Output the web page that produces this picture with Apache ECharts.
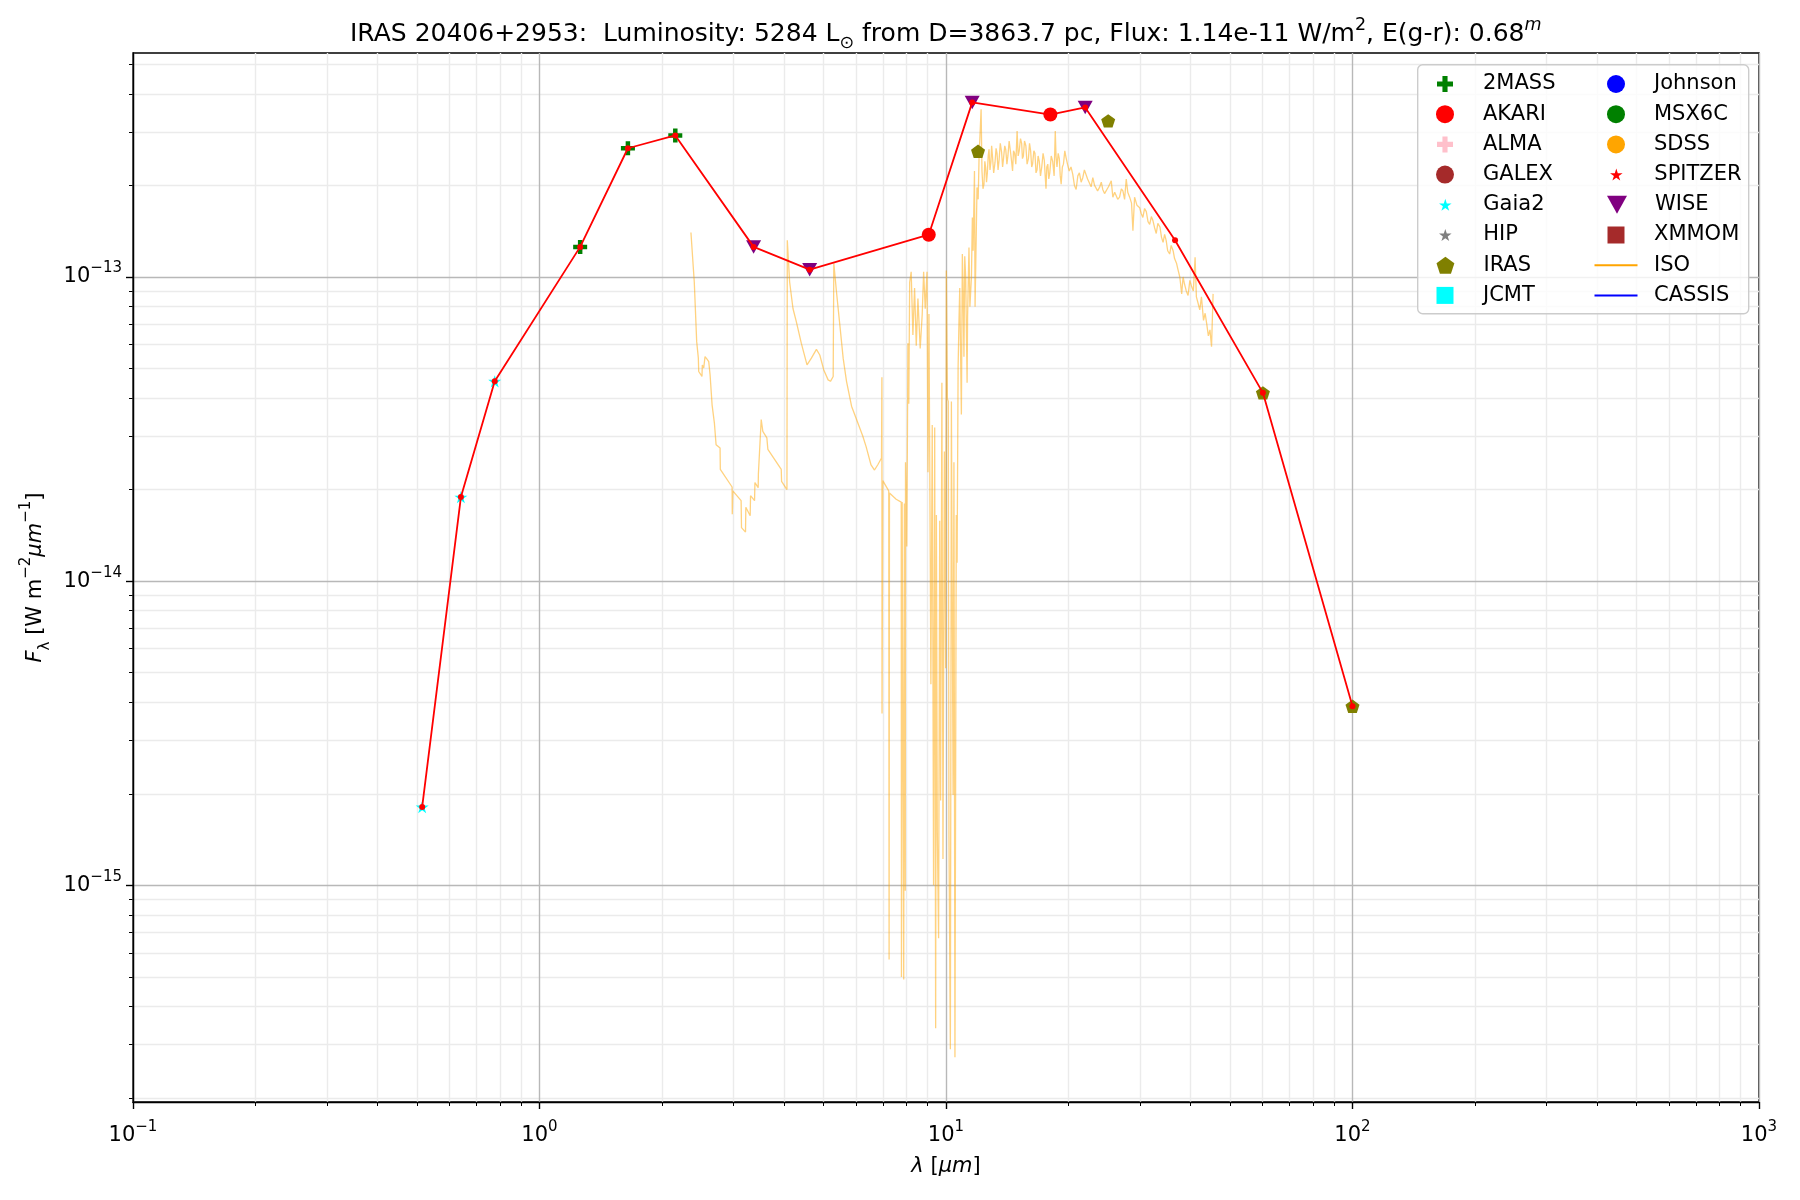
<!DOCTYPE html>
<html>
<head>
<meta charset="utf-8">
<script src="https://cdn.jsdelivr.net/npm/echarts@6/dist/echarts.min.js"></script>
<style>
html,body{margin:0;padding:0;background:#ffffff;}
#chart{width:1800px;height:1200px;}
</style>
</head>
<body>
<div id="chart"></div>
<script>
// ---------------- DATA ----------------
// Connected SED photometry (red line with dots)
const sedLambda = [0.5145, 0.6407, 0.776, 1.259, 1.650, 2.158, 3.363, 4.62, 9.07, 11.6, 18.06, 22.0, 36.6, 60.2, 100];
const sedFlux   = [1.81e-15, 1.89e-14, 4.54e-14, 1.256e-13, 2.65e-13, 2.92e-13, 1.256e-13, 1.057e-13, 1.377e-13, 3.75e-13, 3.42e-13, 3.61e-13, 1.32e-13, 4.16e-14, 3.88e-15];

// Catalog photometry
const twomassLambda = [1.259, 1.650, 2.158];
const twomassFlux   = [1.256e-13, 2.65e-13, 2.92e-13];
const akariLambda = [9.07, 18.06];
const akariFlux   = [1.377e-13, 3.42e-13];
const gaiaLambda = [0.5145, 0.6407, 0.776];
const gaiaFlux   = [1.81e-15, 1.89e-14, 4.54e-14];
const wiseLambda = [3.363, 4.62, 11.6, 22.0];
const wiseFlux   = [1.256e-13, 1.057e-13, 3.75e-13, 3.61e-13];
const irasLambda = [11.99, 25.06, 60.2, 100];
const irasFlux   = [2.59e-13, 3.26e-13, 4.16e-14, 3.88e-15];

// ISO spectrum (traced)
const isoLambda = [
 2.358,2.403,2.436,2.459,2.464,2.510,2.515,2.525,2.535,2.549,2.554,2.580,2.608,2.628,2.658,2.693,2.719,2.781,2.785,2.977,
 2.980,2.989,3.006,3.133,3.140,3.212,3.218,3.298,3.305,3.381,3.388,3.451,3.455,3.478,3.511,3.543,3.625,3.646,3.933,3.940,
 4.062,4.070,4.124,4.203,4.283,4.407,4.551,4.665,4.800,4.892,5.004,5.129,5.197,5.278,5.297,5.378,5.481,5.585,5.692,5.857,
 6.025,6.24,6.36,6.54,6.67,6.79,6.94,6.955,6.96,6.99,7.23,7.245,7.26,7.54,7.76,7.77,7.80,7.83,7.87,7.90,
 7.94,7.95,8.01,8.06,8.10,8.14,8.21,8.29,8.37,8.45,8.53,8.64,8.74,8.81,8.89,8.98,9.03,9.08,9.11,9.18,
 9.25,9.32,9.38,9.43,9.47,9.52,9.59,9.65,9.70,9.77,9.83,9.91,9.98,10.02,10.08,10.13,10.17,10.25,10.31,10.41,
 10.46,10.52,10.60,10.65,10.71,10.76,10.81,10.91,10.97,11.01,11.07,11.12,11.18,11.27,11.30,11.39,11.45,11.55,11.61,11.66,
 11.75,11.79,11.92,12.0,12.06,12.2,12.26,12.33,12.4,12.46,12.52,12.58,12.64,12.7,12.76,12.83,12.9,12.95,13.01,13.1,
 13.2,13.28,13.35,13.43,13.51,13.6,13.7,13.78,13.85,13.95,14.03,14.12,14.2,14.3,14.4,14.5,14.58,14.66,14.75,14.85,
 14.96,15.05,15.14,15.25,15.35,15.42,15.5,15.6,15.72,15.83,15.95,16.05,16.15,16.25,16.33,16.45,16.55,16.65,16.75,16.85,
 16.96,17.08,17.2,17.33,17.45,17.54,17.62,17.7,17.8,17.9,18.0,18.15,18.3,18.45,18.57,18.65,18.75,18.88,19.0,19.1,
 19.2,19.33,19.45,19.6,19.74,19.9,20.1,20.3,20.5,20.7,20.9,21.1,21.29,21.5,21.7,21.9,22.11,22.3,22.5,22.75,
 22.97,23.2,23.4,23.6,23.86,24.1,24.3,24.55,24.77,25.1,25.5,25.73,26.0,26.2,26.45,26.73,27.0,27.24,27.5,27.76,
 28.0,28.3,28.6,28.83,29.1,29.5,29.95,30.2,30.5,30.8,31.1,31.4,31.7,32.0,32.3,32.6,32.9,33.2,33.6,33.9,
 34.2,34.5,34.8,35.1,35.5,35.8,36.2,36.5,36.9,37.2,37.6,38.0,38.3,38.6,39.0,39.4,39.8,40.2,40.6,41.0,
 41.3,41.7,42.1,42.5,43.0,43.4,43.8,44.2,44.6,45.0,45.4
];
const isoFlux = [
 1.40e-13,9.63e-14,6.13e-14,5.41e-14,4.89e-14,4.71e-14,5.14e-14,5.14e-14,5.02e-14,5.08e-14,5.47e-14,5.38e-14,5.27e-14,4.77e-14,3.80e-14,3.31e-14,2.81e-14,2.74e-14,2.33e-14,2.04e-14,
 1.66e-14,1.98e-14,1.96e-14,1.84e-14,1.50e-14,1.45e-14,1.75e-14,1.64e-14,1.91e-14,1.84e-14,2.11e-14,2.03e-14,2.25e-14,2.25e-14,3.40e-14,3.11e-14,2.96e-14,2.71e-14,2.33e-14,2.13e-14,
 2.00e-14,1.32e-13,9.63e-14,7.88e-14,7.13e-14,6.05e-14,5.14e-14,5.41e-14,5.78e-14,5.54e-14,4.95e-14,4.59e-14,4.54e-14,4.71e-14,1.11e-13,8.93e-14,6.95e-14,5.41e-14,4.54e-14,3.76e-14,
 3.40e-14,3.00e-14,2.77e-14,2.41e-14,2.32e-14,2.41e-14,2.54e-14,4.68e-14,3.67e-15,2.14e-14,1.98e-14,5.7e-16,1.95e-14,1.86e-14,1.82e-14,5.0e-16,1.82e-14,1.82e-14,4.9e-16,1.80e-14,
 9.6e-16,2.46e-14,1.30e-14,6.06e-14,3.83e-14,9.6e-14,1.04e-13,6.45e-14,9.2e-14,5.94e-14,8.5e-14,5.82e-14,7.55e-14,1.04e-13,7.87e-14,1.04e-13,2.28e-14,7.55e-14,3.26e-14,4.58e-15,
 3.26e-14,1.0e-15,3.2e-14,3.39e-16,1.65e-14,1.49e-15,6.7e-16,1.58e-14,1.9e-15,4.49e-14,1.22e-15,2.67e-14,5.17e-15,1.05e-13,3.98e-14,3.9e-14,1.44e-15,2.89e-16,3.9e-14,1.98e-15,
 2.46e-14,2.72e-16,1.65e-14,1.15e-14,5.06e-14,7.03e-14,9.2e-14,3.53e-14,1.19e-13,9.6e-14,5.47e-14,1.17e-13,1.0e-13,4.49e-14,7.4e-14,1.25e-13,7.98e-14,1.0e-13,1.57e-13,1.22e-13,
 2.23e-13,7.98e-14,1.97e-13,1.8e-13,2.47e-13,3.56e-13,2.23e-13,1.95e-13,2.02e-13,2.4e-13,2.29e-13,2.05e-13,2.2e-13,2.5e-13,2.63e-13,2.25e-13,2.4e-13,2.7e-13,2.5e-13,2.2e-13,
 2.38e-13,2.65e-13,2.55e-13,2.25e-13,2.43e-13,2.75e-13,2.58e-13,2.3e-13,2.45e-13,2.7e-13,2.62e-13,2.35e-13,2.5e-13,2.8e-13,2.6e-13,2.4e-13,2.23e-13,2.6e-13,2.55e-13,2.35e-13,
 3.02e-13,2.5e-13,2.6e-13,2.85e-13,2.75e-13,2.45e-13,2.5e-13,2.8e-13,2.7e-13,2.35e-13,2.45e-13,2.75e-13,2.6e-13,2.3e-13,2.35e-13,2.6e-13,2.55e-13,2.2e-13,2.25e-13,2.5e-13,
 2.4e-13,2.15e-13,2.3e-13,2.55e-13,2.42e-13,2.15e-13,1.95e-13,2.3e-13,2.35e-13,2.1e-13,2.2e-13,2.5e-13,2.4e-13,2.15e-13,3.02e-13,2.5e-13,2.3e-13,2.55e-13,2.45e-13,2.15e-13,
 2.02e-13,2.3e-13,2.35e-13,2.6e-13,2.47e-13,2.35e-13,2.23e-13,2.3e-13,2.18e-13,2.0e-13,1.94e-13,2.15e-13,2.2e-13,2.05e-13,2.12e-13,2.25e-13,2.23e-13,2.1e-13,2.07e-13,1.98e-13,
 2.12e-13,2.0e-13,2.02e-13,1.92e-13,1.97e-13,2.05e-13,1.94e-13,1.88e-13,1.9e-13,1.98e-13,2.07e-13,1.83e-13,1.9e-13,1.92e-13,1.8e-13,1.83e-13,1.95e-13,1.92e-13,1.8e-13,2.1e-13,
 1.9e-13,1.83e-13,1.75e-13,1.42e-13,1.83e-13,1.72e-13,1.69e-13,1.62e-13,1.57e-13,1.68e-13,1.64e-13,1.52e-13,1.49e-13,1.58e-13,1.53e-13,1.45e-13,1.39e-13,1.5e-13,1.46e-13,1.35e-13,
 1.30e-13,1.38e-13,1.32e-13,1.22e-13,1.19e-13,1.27e-13,1.22e-13,1.15e-13,1.11e-13,1.06e-13,1.0e-13,8.8e-14,1.0e-13,9.5e-14,9.0e-14,8.7e-14,9.75e-14,9.3e-14,9.0e-14,1.16e-13,
 8.6e-14,8.2e-14,7.8e-14,8.6e-14,7.2e-14,7.6e-14,7.0e-14,6.4e-14,6.7e-14,5.9e-14,8.8e-14
];

// Axis ranges and ticks
const X_MIN = 0.1, X_MAX = 1000;
const Y_MIN = 1.94e-16, Y_MAX = 5.45e-13;
const xMajorTicks = [0.1, 1, 10, 100, 1000];
const xTickExponents = ['−1', '0', '1', '2', '3'];
const xMinorTicks = [0.2,0.3,0.4,0.5,0.6,0.7,0.8,0.9, 2,3,4,5,6,7,8,9, 20,30,40,50,60,70,80,90, 200,300,400,500,600,700,800,900];
const yMajorTicks = [1e-15, 1e-14, 1e-13];
const yTickExponents = ['−15', '−14', '−13'];
const yMinorTicks = [2e-16,3e-16,4e-16,5e-16,6e-16,7e-16,8e-16,9e-16, 2e-15,3e-15,4e-15,5e-15,6e-15,7e-15,8e-15,9e-15,
                     2e-14,3e-14,4e-14,5e-14,6e-14,7e-14,8e-14,9e-14, 2e-13,3e-13,4e-13,5e-13];

const legendCol1 = ['2MASS','AKARI','ALMA','GALEX','Gaia2','HIP','IRAS','JCMT'];
const legendCol2 = ['Johnson','MSX6C','SDSS','SPITZER','WISE','XMMOM','ISO','CASSIS'];

// ---------------- STYLE ----------------
const SYM_PLUS = 'path://M34,0L66,0L66,34L100,34L100,66L66,66L66,100L34,100L34,66L0,66L0,34L34,34Z';
const SYM_STAR = 'path://M100,0L122.45,69.1L195.1,69.1L136.33,111.8L158.78,180.9L100,138.2L41.22,180.9L63.67,111.8L4.9,69.1L77.55,69.1Z';
const SYM_PENT = 'path://M100,0L195.1,69.1L158.78,180.9L41.22,180.9L4.9,69.1Z';
const SYM_TRID = 'path://M0,0L100,0L50,90Z';
const SYM_SQR  = 'path://M0,0L100,0L100,100L0,100Z';

const catalogStyle = {
  '2MASS':   {kind:'scatter', symbol:SYM_PLUS, color:'#008000', size:14, lsize:16},
  'AKARI':   {kind:'scatter', symbol:'circle', color:'#ff0000', size:14, lsize:18},
  'ALMA':    {kind:'scatter', symbol:SYM_PLUS, color:'#ffc0cb', size:14, lsize:16},
  'GALEX':   {kind:'scatter', symbol:'circle', color:'#a52a2a', size:14, lsize:18},
  'Gaia2':   {kind:'scatter', symbol:SYM_STAR, color:'#00ffff', size:13, lsize:12},
  'HIP':     {kind:'scatter', symbol:SYM_STAR, color:'#808080', size:13, lsize:12},
  'IRAS':    {kind:'scatter', symbol:SYM_PENT, color:'#808000', size:14, lsize:17},
  'JCMT':    {kind:'scatter', symbol:SYM_SQR,  color:'#00ffff', size:14, lsize:17},
  'Johnson': {kind:'scatter', symbol:'circle', color:'#0000ff', size:14, lsize:18},
  'MSX6C':   {kind:'scatter', symbol:'circle', color:'#008000', size:14, lsize:18},
  'SDSS':    {kind:'scatter', symbol:'circle', color:'#ffa500', size:14, lsize:18},
  'SPITZER': {kind:'scatter', symbol:SYM_STAR, color:'#ff0000', size:13, lsize:12},
  'WISE':    {kind:'scatter', symbol:SYM_TRID, color:'#800080', size:15, lsize:18},
  'XMMOM':   {kind:'scatter', symbol:SYM_SQR,  color:'#a52a2a', size:14, lsize:17},
  'ISO':     {kind:'line', color:'#ffa500'},
  'CASSIS':  {kind:'line', color:'#0000ff'}
};

function zip(xs, ys) { return xs.map((x, i) => [x, ys[i]]); }

const catalogData = {
  '2MASS': zip(twomassLambda, twomassFlux),
  'AKARI': zip(akariLambda, akariFlux),
  'Gaia2': zip(gaiaLambda, gaiaFlux),
  'WISE':  zip(wiseLambda, wiseFlux),
  'IRAS':  zip(irasLambda, irasFlux),
  'ISO':   zip(isoLambda, isoFlux)
};

const FONT = 'DejaVu Sans';
const FS = 21;
const series = [];
legendCol1.concat(legendCol2).forEach(name => {
  const st = catalogStyle[name];
  const data = catalogData[name] || [];
  if (st.kind === 'line') {
    series.push({
      name, type:'line', data, symbol:'none', showSymbol:false, z:1,
      itemStyle:{color:st.color},
      lineStyle:{color:st.color, width:1.3, opacity:0.5},
      emphasis:{disabled:true}
    });
  } else {
    series.push({
      name, type:'scatter', data, symbol:st.symbol, symbolSize:st.size, symbolKeepAspect:true, z:3,
      itemStyle:{color:st.color, opacity:1},
      emphasis:{disabled:true}
    });
  }
});
series.push({
  name:'SED', type:'line', data: zip(sedLambda, sedFlux), symbol:'circle', symbolSize:6, showSymbol:true, z:5,
  itemStyle:{color:'#ff0000'}, lineStyle:{color:'#ff0000', width:1.8}, emphasis:{disabled:true}
});

// legends (one per entry, two columns); the legend box aligns to its visible content
const legends = [];
[legendCol1, legendCol2].forEach((col, ci) => {
  col.forEach((name, ri) => {
    const st = catalogStyle[name];
    const cy = 84 + ri * 30.2;
    const cx = ci === 0 ? 1445 : 1616;
    const isLine = st.kind === 'line';
    const h = isLine ? 2 : st.lsize;
    const w = isLine ? 43 : st.lsize;
    legends.push({
      show:true, orient:'horizontal', left: cx - w / 2, top: cy - 16,
      itemWidth:66, itemHeight:h, itemGap:0, padding:0, selectedMode:false, symbolKeepAspect:true,
      data:[ isLine ? {name, icon:'path://M0,0L43,0L43,2L0,2Z', itemStyle:{color:st.color, opacity:1}} : {name} ],
      textStyle:{fontSize:FS, lineHeight:32, color:'#000', fontFamily:FONT}
    });
  });
});

const supRich = {
  b:{fontSize:FS, lineHeight:32, color:'#000', fontFamily:FONT},
  s:{fontSize:15, verticalAlign:'top', color:'#000', fontFamily:FONT}
};

const option = {
  animation:false,
  backgroundColor:'#ffffff',
  textStyle:{fontFamily:FONT},
  title:{
    text:'{n|IRAS 20406+2953:  Luminosity: 5284 L}{sub|⊙}{n| from D=3863.7 pc, Flux: 1.14e-11 W/m}{sup|2}{n|, E(g-r): 0.68}{supi|m}',
    left:350, top:16, padding:0,
    textStyle:{
      fontSize:25, color:'#000', fontWeight:'normal', fontFamily:FONT,
      rich:{
        n:{fontSize:25, lineHeight:36, color:'#000', fontFamily:FONT},
        sub:{fontSize:17.5, verticalAlign:'bottom', color:'#000', fontFamily:FONT},
        sup:{fontSize:17.5, verticalAlign:'top', color:'#000', fontFamily:FONT},
        supi:{fontSize:17.5, verticalAlign:'top', fontStyle:'italic', color:'#000', fontFamily:FONT}
      }
    }
  },
  grid:{left:133, right:41, top:53, bottom:98, show:true, borderColor:'#000', borderWidth:1.4, backgroundColor:'transparent', containLabel:false, outerBoundsMode:'none'},
  xAxis:[
    {
      type:'log', logBase:10, min:X_MIN, max:X_MAX, position:'bottom', gridIndex:0, z:1,
      name:'{i|λ} [{i|μm}]', nameLocation:'middle', nameGap:54,
      nameTextStyle:{fontSize:FS, color:'#000', fontFamily:FONT, rich:{i:{fontStyle:'italic', fontSize:FS, color:'#000', fontFamily:FONT}}},
      axisLine:{show:true, onZero:false, lineStyle:{color:'#000', width:1.4}},
      axisTick:{show:true, length:7, lineStyle:{color:'#000', width:1.4}, customValues:xMajorTicks},
      axisLabel:{show:true, margin:18, customValues:xMajorTicks, rich:supRich,
        formatter:(v) => { const i = xMajorTicks.findIndex(t => Math.abs(Math.log10(t) - Math.log10(v)) < 1e-6); return i < 0 ? '' : '{b|10}{s|' + xTickExponents[i] + '}'; }},
      splitLine:{show:true, lineStyle:{color:'#b8b8b8', width:1.4}},
      minorTick:{show:false}, minorSplitLine:{show:false}
    },
    {
      type:'log', logBase:10, min:X_MIN, max:X_MAX, position:'bottom', gridIndex:0, z:0,
      axisLine:{show:false},
      axisTick:{show:true, length:4, lineStyle:{color:'#000', width:1}, customValues:xMinorTicks},
      axisLabel:{show:false},
      splitLine:{show:true, lineStyle:{color:'#ebebeb', width:1.4}}
    }
  ],
  yAxis:[
    {
      type:'log', logBase:10, min:Y_MIN, max:Y_MAX, position:'left', gridIndex:0, z:1,
      name:'{i|F}{sub|λ} [W m{sup|−2}{i|μm}{sup|−1}]', nameLocation:'middle', nameRotate:90, nameGap:76,
      nameTextStyle:{fontSize:FS, color:'#000', fontFamily:FONT, rich:{
        i:{fontStyle:'italic', fontSize:FS, lineHeight:34, color:'#000', fontFamily:FONT},
        n:{fontSize:FS, lineHeight:34, color:'#000', fontFamily:FONT},
        sub:{fontSize:15, verticalAlign:'bottom', color:'#000', fontFamily:FONT},
        sup:{fontSize:15, verticalAlign:'top', color:'#000', fontFamily:FONT}
      }},
      axisLine:{show:true, onZero:false, lineStyle:{color:'#000', width:1.4}},
      axisTick:{show:true, length:7, lineStyle:{color:'#000', width:1.4}, customValues:yMajorTicks},
      axisLabel:{show:true, margin:11, customValues:yMajorTicks, rich:supRich,
        formatter:(v) => { const i = yMajorTicks.findIndex(t => Math.abs(Math.log10(t) - Math.log10(v)) < 1e-6); return i < 0 ? '' : '{b|10}{s|' + yTickExponents[i] + '}'; }},
      splitLine:{show:true, lineStyle:{color:'#b8b8b8', width:1.4}},
      minorTick:{show:false}, minorSplitLine:{show:false}
    },
    {
      type:'log', logBase:10, min:Y_MIN, max:Y_MAX, position:'left', gridIndex:0, z:0,
      axisLine:{show:false},
      axisTick:{show:true, length:4, lineStyle:{color:'#000', width:1}, customValues:yMinorTicks},
      axisLabel:{show:false},
      splitLine:{show:true, lineStyle:{color:'#ebebeb', width:1.4}}
    }
  ],
  legend: legends,
  graphic:[{
    type:'rect', left:1417, top:64, z:3, silent:true,
    shape:{width:331, height:249, r:5},
    style:{fill:'rgba(255,255,255,0.8)', stroke:'#cccccc', lineWidth:1.4}
  }],
  series: series
};

const chart = echarts.init(document.getElementById('chart'), null, {renderer:'canvas', width:1800, height:1200});
chart.setOption(option);
</script>
</body>
</html>
